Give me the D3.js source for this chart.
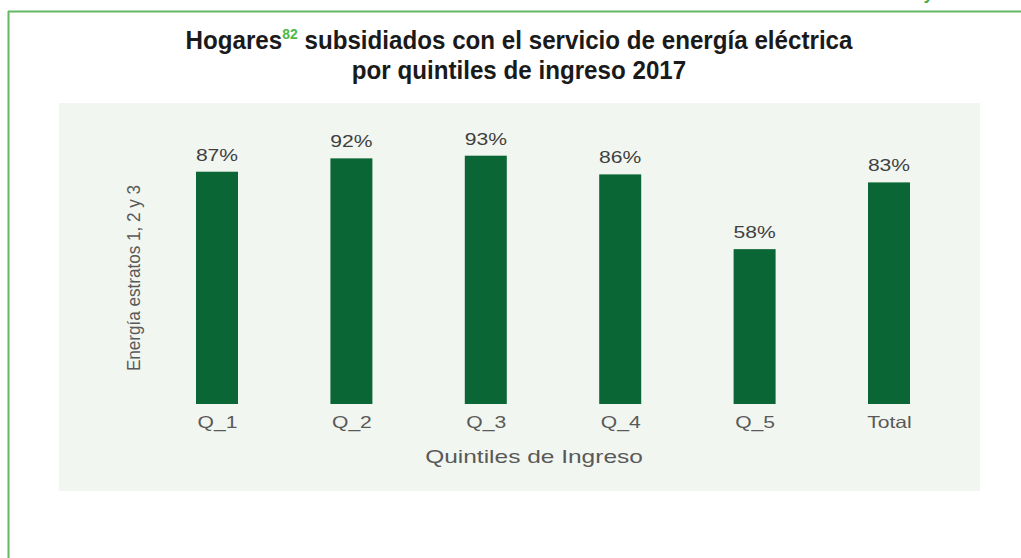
<!DOCTYPE html>
<html>
<head>
<meta charset="utf-8">
<script src="https://cdn.jsdelivr.net/npm/d3@7"></script>
<style>
  html, body { margin: 0; padding: 0; background: #ffffff; }
  svg { display: block; }
</style>
</head>
<body>
<svg id="chart" width="1021" height="558"></svg>
<script>
// Share of households receiving the electricity subsidy, by income quintile (2017)
const categories = ["Q_1", "Q_2", "Q_3", "Q_4", "Q_5", "Total"];
const shares = [87, 92, 93, 86, 58, 83];
const valueLabels = ["87%", "92%", "93%", "86%", "58%", "83%"];
const titleLines = ["Hogares", "82", " subsidiados con el servicio de energía eléctrica", "por quintiles de ingreso 2017"];
const xAxisTitle = "Quintiles de Ingreso";
const yAxisTitle = "Energía estratos 1, 2 y 3";

const svg = d3.select("#chart");
const W = 1021, H = 558;

const frameColor = "#62b865";
const barColor = "#0a6735";
const panelColor = "#f2f6f1";
const sans = "Liberation Sans, Arial, Helvetica, sans-serif";

// page frame: left and top rules
svg.append("line").attr("x1", 8.5).attr("x2", 8.5).attr("y1", 11).attr("y2", H)
  .attr("stroke", frameColor).attr("stroke-width", 2);
svg.append("line").attr("x1", 8).attr("x2", W).attr("y1", 11.5).attr("y2", 11.5)
  .attr("stroke", frameColor).attr("stroke-width", 2);
// running-header glyph at the top edge
svg.append("text").attr("x", 925).attr("y", 0)
  .attr("font-family", sans)
  .attr("font-weight", "bold").attr("font-style", "italic")
  .attr("font-size", 16).attr("fill", "#3aa83a").text("y");

// title (condensed bold)
const title = svg.append("text")
  .attr("transform", "translate(519,49) scale(0.93,1)")
  .attr("text-anchor", "middle")
  .attr("font-family", sans)
  .attr("font-weight", "bold").attr("font-size", 26).attr("fill", "#1a1a1a");
title.append("tspan").text(titleLines[0]);
title.append("tspan").attr("dy", -10).attr("font-size", 15).attr("fill", "#4cb848").text(titleLines[1]);
title.append("tspan").attr("dy", 10).text(titleLines[2]);
svg.append("text")
  .attr("transform", "translate(519,79) scale(0.93,1)")
  .attr("text-anchor", "middle")
  .attr("font-family", sans)
  .attr("font-weight", "bold").attr("font-size", 26).attr("fill", "#1a1a1a")
  .text(titleLines[3]);

// chart panel
svg.append("rect").attr("x", 59).attr("y", 103).attr("width", 921).attr("height", 388)
  .attr("fill", panelColor);

// scales
const x = d3.scalePoint().domain(categories).range([217, 889]);
const y = d3.scaleLinear().domain([0, 100]).range([404, 137]);
const barW = 42;

const data = categories.map((c, i) => ({ c, v: shares[i], label: valueLabels[i] }));

// bars
svg.append("g").selectAll("rect").data(data).join("rect")
  .attr("x", d => x(d.c) - barW / 2)
  .attr("y", d => y(d.v))
  .attr("width", barW)
  .attr("height", d => y(0) - y(d.v))
  .attr("fill", barColor);

// horizontally stretched label helper
function wideText(g, px, py, str, opts) {
  g.append("text")
    .attr("transform", `translate(${px},${py}) scale(${opts.sx},1)`)
    .attr("text-anchor", "middle")
    .attr("font-family", sans)
    .attr("font-size", opts.size)
    .attr("fill", opts.fill)
    .text(str);
}

// value labels
const labels = svg.append("g");
data.forEach(d => wideText(labels, x(d.c), y(d.v) - 11, d.label, { sx: 1.28, size: 16.5, fill: "#3f3f3f" }));

// category axis (no line, no ticks)
const xAxis = svg.append("g").attr("transform", `translate(0,${y(0)})`)
  .call(d3.axisBottom(x).tickSize(0).tickPadding(0));
xAxis.select(".domain").remove();
xAxis.selectAll(".tick text").remove();
xAxis.selectAll(".tick").each(function (c) {
  wideText(d3.select(this), 0, 24, c, { sx: 1.28, size: 16.5, fill: "#595959" });
});

// axis titles
wideText(svg, 534, 463, xAxisTitle, { sx: 1.4, size: 17.5, fill: "#595959" });
svg.append("text")
  .attr("transform", `translate(140,278) rotate(-90) scale(0.95,1)`)
  .attr("text-anchor", "middle")
  .attr("font-family", sans)
  .attr("font-size", 18)
  .attr("fill", "#595959")
  .text(yAxisTitle);
</script>
</body>
</html>
